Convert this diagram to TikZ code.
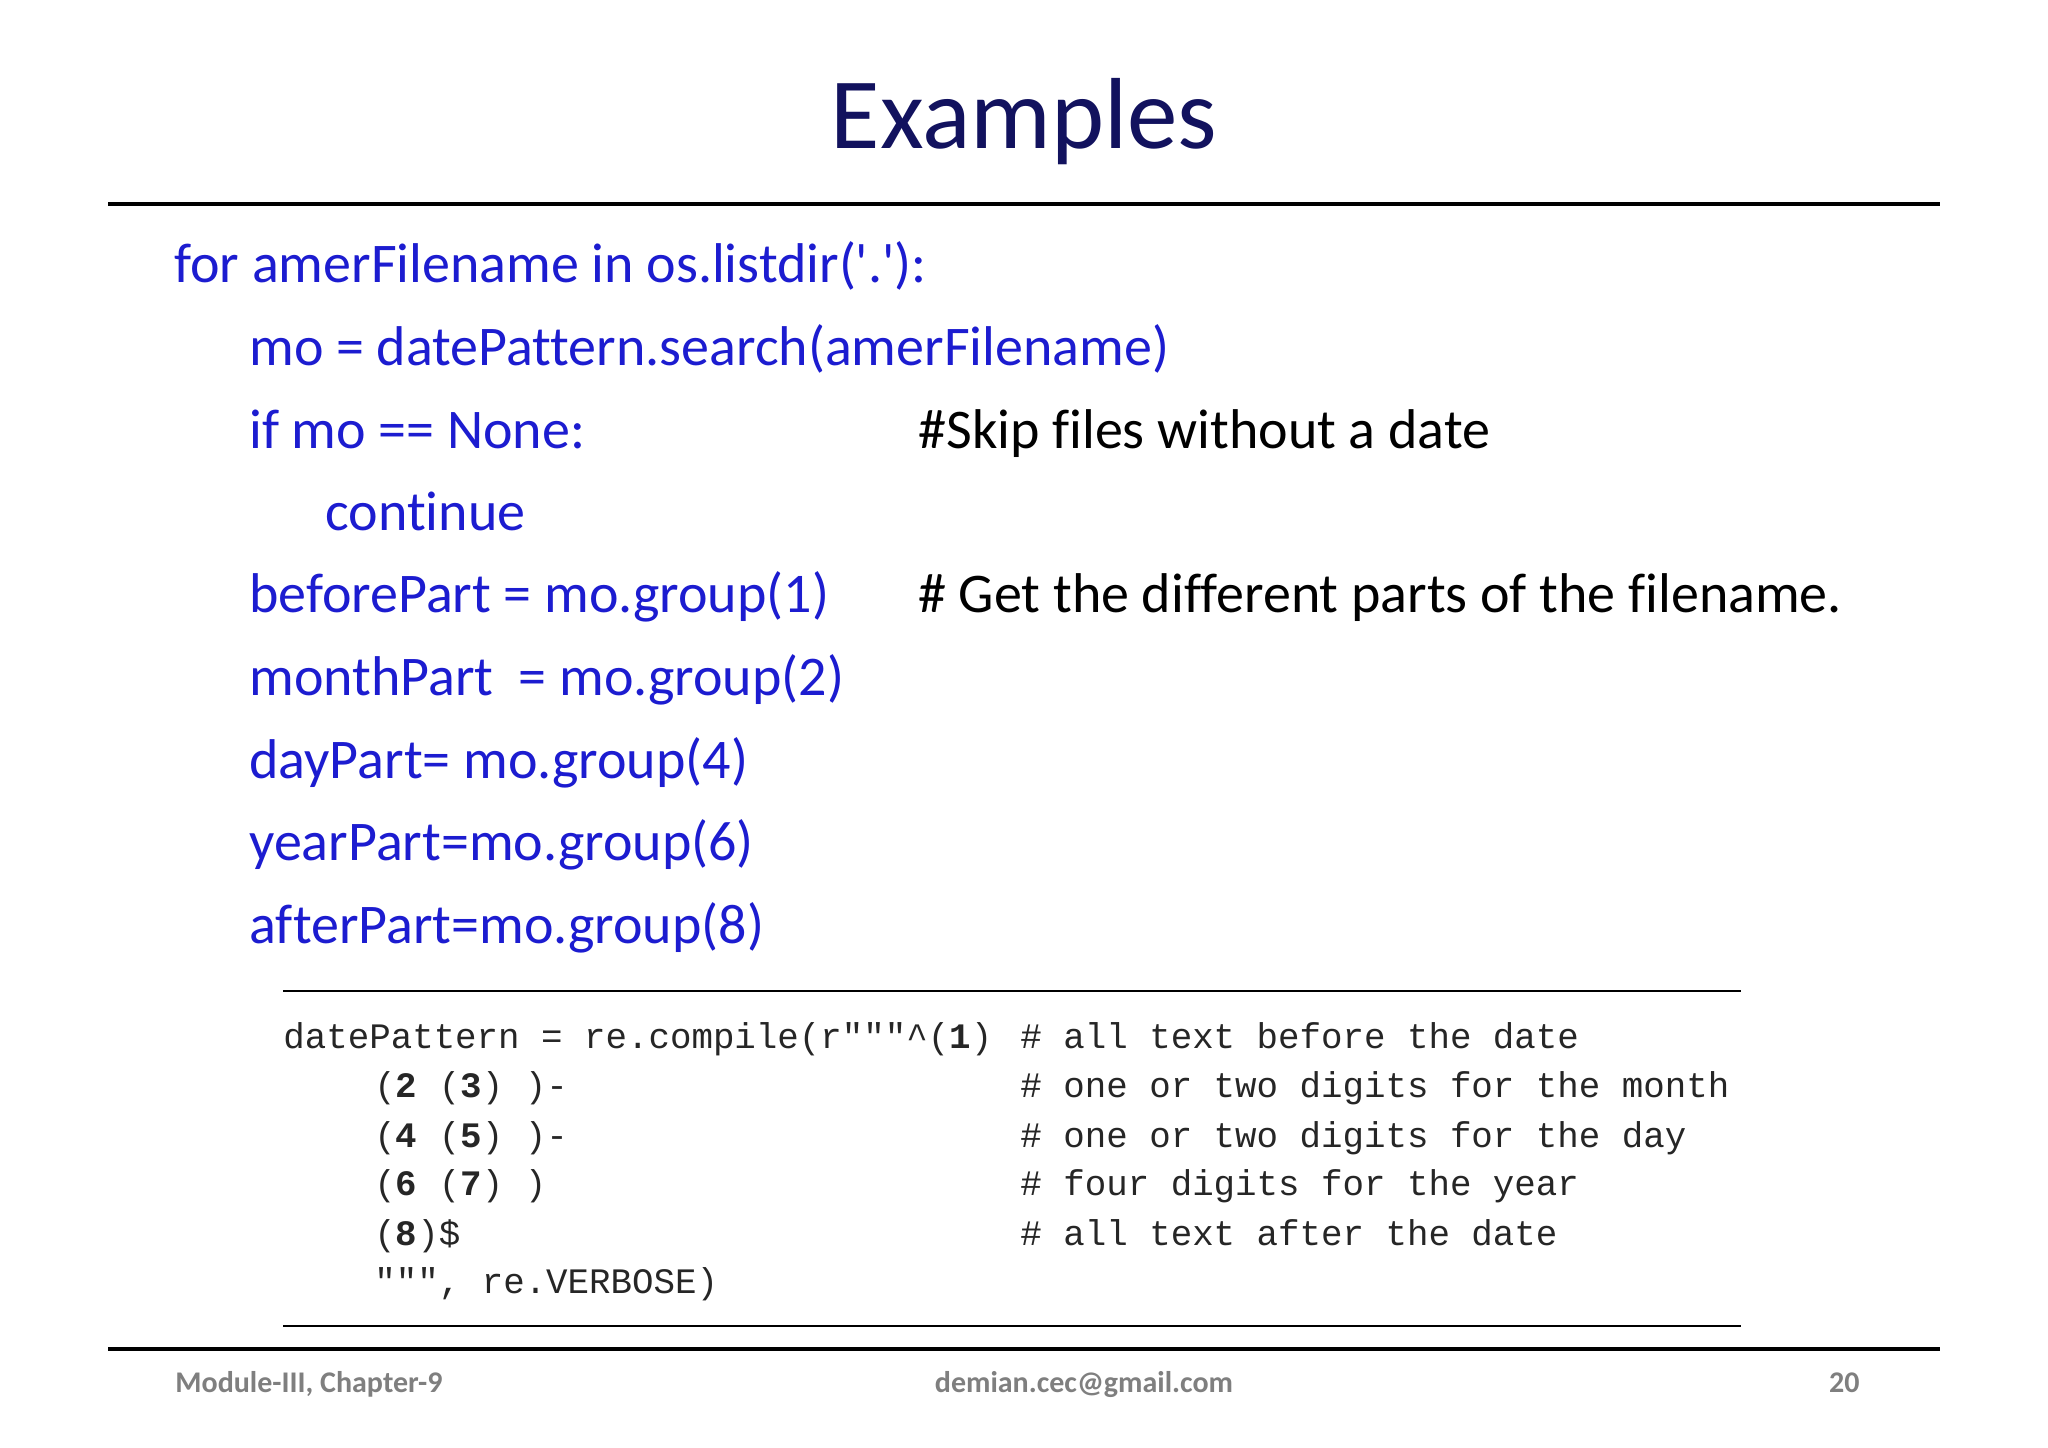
\documentclass[tikz,border=0pt]{standalone}
\usepackage{fontspec}
\setmainfont{Carlito}
\newfontfamily\codefont{Carlito}[RawFeature={-liga}]
\setmonofont{Liberation Mono}
\definecolor{codeblue}{HTML}{1C1CD0}
\definecolor{titlenavy}{HTML}{12125E}
\definecolor{footgray}{HTML}{7F7F7F}
\begin{document}
\begin{tikzpicture}[x=0.5pt,y=-0.5pt,
  code/.style={anchor=base west,inner sep=0pt,text=codeblue,font=\codefont\fontsize{28}{32}\selectfont},
  cmt/.style={anchor=base west,inner sep=0pt,text=black,font=\codefont\fontsize{28}{32}\selectfont},
  mono/.style={anchor=base west,inner sep=0pt,text=black!85,font=\fontsize{17.9}{21}\ttfamily},
  foot/.style={anchor=base,inner sep=0pt,text=footgray,font=\fontsize{15}{17}\selectfont\bfseries},
  rule/.style={line width=1.6pt}]
\useasboundingbox (0,0) rectangle (2048,1447);
\fill[white] (0,0) rectangle (2048,1447);
\node[text=titlenavy,font=\fontsize{50.5}{56}\selectfont] (title) at (1024,122) {Examples};
\draw[rule] (108,204) -- (1940,204);
\node[code] (l1) at (174,282) {for amerFilename in os.listdir('.'):};
\node[code] (l2) at (249,365) {mo = datePattern.search(amerFilename)};
\node[code] (l3) at (249,448) {if mo == None:};
\node[cmt] (c3) at (918,448) {\#Skip files without a date};
\node[code] (l4) at (325,530) {continue};
\node[code] (l5) at (249,612) {beforePart = mo.group(1)};
\node[cmt] (c5) at (918,612) {\# Get the different parts of the filename.};
\node[code] (l6) at (249,695) {monthPart\ \ = mo.group(2)};
\node[code] (l7) at (249,778) {dayPart= mo.group(4)};
\node[code] (l8) at (249,860) {yearPart=mo.group(6)};
\node[code] (l9) at (249,943) {afterPart=mo.group(8)};
\draw[line width=1.3pt] (283,991) -- (1741,991);
\node[mono] (m1) at (283,1048) {datePattern = re.compile(r"""\^{}(\textbf{1})};
\node[mono] (m2) at (374,1097) {(\textbf{2} (\textbf{3}) )-};
\node[mono] (m3) at (374,1147) {(\textbf{4} (\textbf{5}) )-};
\node[mono] (m4) at (374,1195) {(\textbf{6} (\textbf{7}) )};
\node[mono] (m5) at (374,1245) {(\textbf{8})\$};
\node[mono] (m6) at (374,1293) {""", re.VERBOSE)};
\node[mono] (k1) at (1020,1048) {\# all text before the date};
\node[mono] (k2) at (1020,1097) {\# one or two digits for the month};
\node[mono] (k3) at (1020,1147) {\# one or two digits for the day};
\node[mono] (k4) at (1020,1195) {\# four digits for the year};
\node[mono] (k5) at (1020,1245) {\# all text after the date};
\draw[line width=1.3pt] (283,1326) -- (1741,1326);
\draw[rule] (108,1349) -- (1940,1349);
\node[foot,anchor=base west] (f1) at (175,1392) {Module-III, Chapter-9};
\node[foot] (f2) at (1084,1392) {demian.cec@gmail.com};
\node[foot,anchor=base east] (f3) at (1860,1392) {20};
\end{tikzpicture}
\end{document}
